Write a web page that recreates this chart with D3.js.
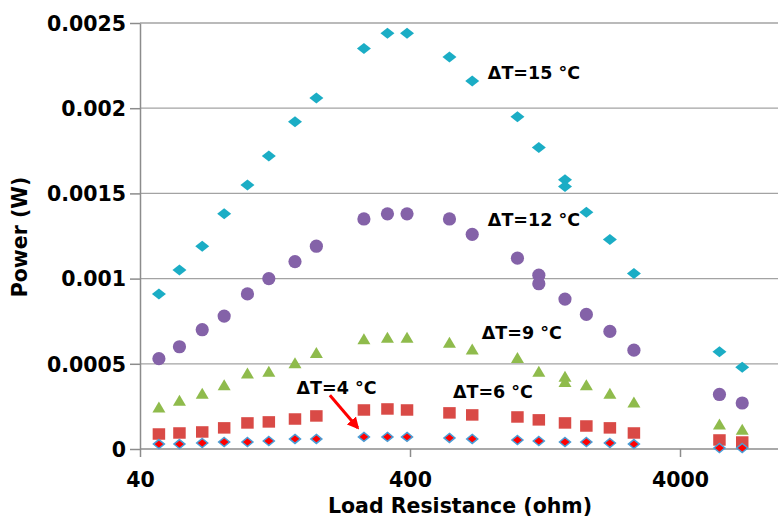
<!DOCTYPE html>
<html>
<head>
<meta charset="utf-8">
<script src="https://cdn.jsdelivr.net/npm/d3@7"></script>
<style>
  body { margin: 0; background: #fff; }
  svg { display: block; font-family: "DejaVu Sans", sans-serif; font-weight: bold; }
</style>
</head>
<body>
<svg id="chart"></svg>
<script>
  "use strict";

  // load resistances (ohm), shared by every series
  var resistance = [47, 56, 68, 82, 100, 120, 150, 180, 270, 330, 390, 560, 680, 1000, 1200, 1500, 1800, 2200, 2700, 5600, 6800];

  // power (W) per series; an inner array = repeated measurement at that resistance
  var dt15 = [0.00091, 0.00105, 0.00119, 0.00138, 0.00155, 0.00172, 0.00192, 0.00206, 0.00235, 0.00244, 0.00244, 0.0023, 0.00216, 0.00195, 0.00177, [0.00158, 0.00154], 0.00139, 0.00123, 0.00103, 0.00057, 0.00048];
  var dt12 = [0.00053, 0.0006, 0.0007, 0.00078, 0.00091, 0.001, 0.0011, 0.00119, 0.00135, 0.00138, 0.00138, 0.00135, 0.00126, 0.00112, [0.00102, 0.00097], 0.00088, 0.00079, 0.00069, 0.00058, 0.00032, 0.00027];
  var dt9 = [0.00024, 0.00028, 0.00032, 0.00037, 0.00044, 0.00045, 0.0005, 0.00056, 0.00064, 0.00065, 0.00065, 0.00062, 0.00058, 0.00053, 0.00045, [0.00042, 0.00039], 0.00037, 0.00032, 0.00027, 0.00014, 0.00011];
  var dt6 = [0.000088, 0.000094, 0.0001, 0.000124, 0.000153, 0.000159, 0.000176, 0.000194, 0.000229, 0.000235, 0.000229, 0.000212, 0.0002, 0.000188, 0.000171, 0.000153, 0.000135, 0.000124, 0.000094, 0.000053, 0.000041];
  var dt4 = [0.000029, 0.000029, 0.000035, 0.000041, 0.000041, 0.000047, 0.000059, 0.000059, 0.000071, 0.000071, 0.000071, 0.000065, 0.000059, 0.000053, 0.000047, 0.000041, 0.000041, 0.000035, 0.000029, 0.000006, 0.000006];

  var xTicks = [40, 400, 4000];
  var yTicks = [0, 0.0005, 0.001, 0.0015, 0.002, 0.0025];

  // text labels placed in data units [resistance, power]
  var labels = [
    { text: "ΔT=15 °C", r: 777, p: 0.00221 },
    { text: "ΔT=12 °C", r: 777, p: 0.001345 },
    { text: "ΔT=9 °C", r: 738, p: 0.00068 },
    { text: "ΔT=6 °C", r: 577, p: 0.000335 },
    { text: "ΔT=4 °C", r: 152, p: 0.000358 }
  ];
  var arrowFrom = [202, 0.000315];
  var arrowTo = [256, 0.000125];

  var width = 778;
  var height = 523;
  var margin = { top: 23, left: 140, bottom: 74 };

  var x = d3.scaleLog()
    .domain([40, 40000])
    .range([margin.left, margin.left + 810]);
  var y = d3.scaleLinear()
    .domain([0, 0.0025])
    .range([height - margin.bottom, margin.top]);

  var svg = d3.select("#chart")
    .attr("width", width)
    .attr("height", height);

  /***** grid *****/
  svg.append("g")
    .selectAll("line")
    .data(yTicks.filter(d => d > 0))
    .enter()
    .append("line")
      .attr("x1", margin.left)
      .attr("x2", width)
      .attr("y1", d => y(d))
      .attr("y2", d => y(d))
      .attr("stroke", "#a3a3a3")
      .attr("stroke-width", 1.3);

  /***** axes *****/
  var yAxis = svg.append("g")
    .attr("transform", `translate(${margin.left},0)`)
    .call(d3.axisLeft(y)
      .tickValues(yTicks)
      .tickSize(10)
      .tickSizeOuter(0)
      .tickPadding(4)
      .tickFormat(d => String(d)));
  yAxis.selectAll("text")
    .attr("font-size", "20.5px")
    .attr("font-family", "DejaVu Sans")
    .attr("font-weight", "bold")
    .attr("fill", "#000")
    .attr("dy", "0.36em");

  var xAxis = svg.append("g")
    .attr("transform", `translate(0,${y(0)})`)
    .call(d3.axisBottom(x)
      .tickValues(xTicks)
      .tickSize(8)
      .tickSizeOuter(0)
      .tickFormat(d3.format("d")));
  xAxis.selectAll("text")
    .attr("font-size", "20.5px")
    .attr("font-family", "DejaVu Sans")
    .attr("font-weight", "bold")
    .attr("fill", "#000")
    .attr("y", 38)
    .attr("dy", 0);

  svg.selectAll(".domain, .tick line")
    .attr("stroke", "#8c8c8c")
    .attr("stroke-width", 1.5);
  xAxis.select(".domain").attr("d", `M${margin.left},0H${width}`);

  /***** titles *****/
  svg.append("text")
    .attr("x", 460)
    .attr("y", 513)
    .attr("text-anchor", "middle")
    .attr("font-size", "20.5px")
    .text("Load Resistance (ohm)");
  svg.append("text")
    .attr("transform", "translate(27,237) rotate(-90)")
    .attr("text-anchor", "middle")
    .attr("font-size", "20.5px")
    .text("Power (W)");

  /***** markers *****/
  function points(values) {
    var out = [];
    values.forEach(function(v, i) {
      [].concat(v).forEach(function(p) {
        out.push({ r: resistance[i], p: p });
      });
    });
    return out;
  }
  function diamond(w, h) {
    return `M0,${-h / 2}L${w / 2},0L0,${h / 2}L${-w / 2},0Z`;
  }
  function triangle(w, h) {
    return `M0,${-h * 0.6}L${w / 2},${h * 0.4}L${-w / 2},${h * 0.4}Z`;
  }
  function square(w, h) {
    return `M${-w / 2},${-h / 2}h${w}v${h}h${-w}Z`;
  }

  var series = [
    { values: dt4, shape: diamond(11, 9), fill: "#ff0000", stroke: "#4a9fd8", sw: 1.5 },
    { values: dt6, shape: square(12.5, 11.5), fill: "#d94a46", stroke: "none", sw: 0 },
    { values: dt9, shape: triangle(13, 11), fill: "#8fbb4c", stroke: "none", sw: 0 },
    { values: dt12, shape: null, fill: "#8462a8", stroke: "none", sw: 0 },
    { values: dt15, shape: diamond(14, 11), fill: "#1badc5", stroke: "none", sw: 0 }
  ];

  series.slice().reverse().forEach(function(s) {
    var g = svg.append("g");
    var sel = g.selectAll("path,circle")
      .data(points(s.values))
      .enter();
    if (s.shape) {
      sel.append("path")
        .attr("d", s.shape)
        .attr("transform", d => `translate(${x(d.r)},${y(d.p)})`)
        .attr("fill", s.fill)
        .attr("stroke", s.stroke)
        .attr("stroke-width", s.sw);
    } else {
      sel.append("circle")
        .attr("cx", d => x(d.r))
        .attr("cy", d => y(d.p))
        .attr("r", 6.6)
        .attr("fill", s.fill);
    }
  });

  /***** labels *****/
  svg.append("g")
    .selectAll("text")
    .data(labels)
    .enter()
    .append("text")
      .attr("x", d => x(d.r))
      .attr("y", d => y(d.p))
      .attr("dy", "0.36em")
      .attr("font-size", "17.5px")
      .attr("fill", "#000")
      .text(d => d.text);

  // red arrow pointing at the ΔT=4 series
  svg.append("defs").append("marker")
    .attr("id", "head")
    .attr("viewBox", "0 0 10 10")
    .attr("refX", 8)
    .attr("refY", 5)
    .attr("markerWidth", 4)
    .attr("markerHeight", 4)
    .attr("orient", "auto")
    .append("path")
      .attr("d", "M0,0L10,5L0,10Z")
      .attr("fill", "#ff0000");
  svg.append("line")
    .attr("x1", x(arrowFrom[0]))
    .attr("y1", y(arrowFrom[1]))
    .attr("x2", x(arrowTo[0]))
    .attr("y2", y(arrowTo[1]))
    .attr("stroke", "#ff0000")
    .attr("stroke-width", 3)
    .attr("marker-end", "url(#head)");
</script>
</body>
</html>
